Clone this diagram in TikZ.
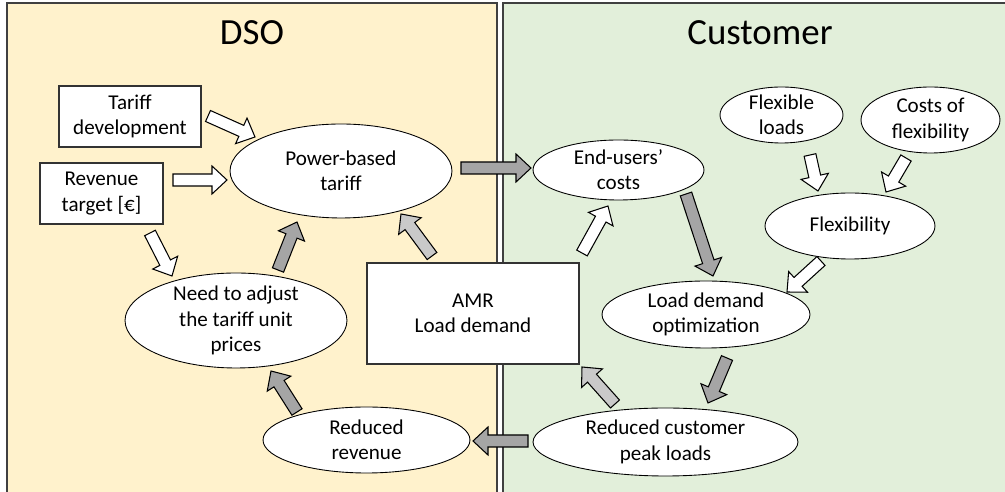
\documentclass[tikz,border=0pt]{standalone}
\usepackage{fontspec}
\setmainfont{Carlito}
\usepackage{tikz}
\usetikzlibrary{shapes, arrows}
\usetikzlibrary{positioning, calc}
\definecolor{dsofill}{HTML}{FFF2CC}
\definecolor{cusfill}{HTML}{E2EFDA}
\definecolor{arrdark}{HTML}{A5A5A5}
\definecolor{arrlight}{HTML}{C9C9C9}
\tikzstyle{panel} = [draw = black!75, line width = 0.8pt]
\tikzstyle{title} = [font = \fontsize{21}{25}\selectfont]
\tikzstyle{box} = [rectangle, draw = black!80, fill = white, line width = 0.6pt,
  align = center, font = \fontsize{12}{14.4}\selectfont]
\tikzstyle{oval} = [
  ellipse, inner sep = -3pt,
  draw = black, fill = white, line width = 0.5pt,
  align = center, font = \fontsize{12}{14.4}\selectfont
]
\tikzstyle{darkarr} = [draw = black, fill = arrdark, line width = 0.6pt,
  line join = miter]
\tikzstyle{lightarr} = [draw = black, fill = arrlight, line width = 0.6pt,
  line join = miter]
\tikzstyle{whitearr} = [draw = black, fill = white, line width = 0.6pt,
  line join = miter]
% block arrow: style, from, to
\newcommand{\blockarrow}[3]{%
  \coordinate (ba-h) at ($(#3)!0.3cm!(#2)$);
  \draw [#1] ($(#2)!0.12cm!90:(#3)$) -- ($(ba-h)!0.12cm!-90:(#2)$) --
  ($(ba-h)!0.28cm!-90:(#2)$) -- (#3) -- ($(ba-h)!0.28cm!90:(#2)$) --
  ($(ba-h)!0.12cm!90:(#2)$) -- ($(#2)!0.12cm!-90:(#3)$) -- cycle;
}

\begin{document}
\begin{tikzpicture}[x = 0.02cm, y = -0.02cm]
      \useasboundingbox (0, 0) rectangle (1005, 492);
      % panels
      \fill [dsofill] (7, 3) rectangle (497, 492);
      \draw [panel] (7, 492) -- (7, 3) -- (497, 3) -- (497, 492);
      \fill [cusfill] (503, 3) rectangle (1005, 492);
      \draw [panel] (503, 492) -- (503, 3) -- (1005, 3);
      \node [title] (dso-title) at (252, 33) {DSO};
      \node [title] (cus-title) at (760, 33) {Customer};

      % DSO
      \node [box, minimum width = 2.84cm, minimum height = 1.22cm] (dso-dev)
        at (130, 116.5) {Tariff\\development};
      \node [box, minimum width = 2.46cm, minimum height = 1.22cm] (dso-target)
        at (101.5, 193.5) {Revenue\\target [€]};
      \node [oval, minimum width = 4.44cm, minimum height = 1.88cm] (dso-tariff)
        at (341, 171) {Power-based\\tariff};
      \node [oval, minimum width = 4.44cm, minimum height = 1.9cm] (dso-adjust)
        at (236, 320.5) {Need to adjust\\the tariff unit\\prices};
      \node [oval, minimum width = 4.14cm, minimum height = 1.32cm] (dso-revenue)
        at (366.5, 440) {Reduced\\revenue};
      \node [box, minimum width = 4.24cm, minimum height = 2.02cm] (amr)
        at (473, 313.5) {AMR\\Load demand};

      % Customer
      \node [oval, minimum width = 3.42cm, minimum height = 1.2cm] (cus-costs)
        at (618.5, 170) {End-users’\\costs};
      \node [oval, minimum width = 2.46cm, minimum height = 1.12cm] (cus-loads)
        at (781.5, 115) {Flexible\\loads};
      \node [oval, minimum width = 2.78cm, minimum height = 1.32cm] (cus-flexcost)
        at (930.5, 120) {Costs of\\flexibility};
      \node [oval, minimum width = 3.4cm, minimum height = 1.32cm] (cus-flex)
        at (850, 226) {Flexibility};
      \node [oval, minimum width = 4.16cm, minimum height = 1.34cm] (cus-opt)
        at (706, 314.5) {Load demand\\optimization};
      \node [oval, minimum width = 5.3cm, minimum height = 1.36cm] (cus-peak)
        at (665.5, 442) {Reduced customer\\peak loads};

      % arrow ends
      \coordinate (dev-s) at (208, 116);   \coordinate (dev-e) at (255, 137);
      \coordinate (tgt-s) at (173, 180);   \coordinate (tgt-e) at (227, 180);
      \coordinate (tga-s) at (150, 233);   \coordinate (tga-e) at (172, 276);
      \coordinate (adj-s) at (278, 270);   \coordinate (adj-e) at (297, 222);
      \coordinate (amt-s) at (432, 256);   \coordinate (amt-e) at (401, 214);
      \coordinate (tar-s) at (461, 168);   \coordinate (tar-e) at (531, 168);
      \coordinate (amc-s) at (582, 253);   \coordinate (amc-e) at (608, 206);
      \coordinate (cst-s) at (686, 194);   \coordinate (cst-e) at (713, 276);
      \coordinate (fll-s) at (810, 155);   \coordinate (fll-e) at (818, 191);
      \coordinate (flc-s) at (906, 158);   \coordinate (flc-e) at (886, 192);
      \coordinate (flx-s) at (821, 261);   \coordinate (flx-e) at (787, 292);
      \coordinate (opt-s) at (727, 358);   \coordinate (opt-e) at (708, 403);
      \coordinate (pka-s) at (615, 404);   \coordinate (pka-e) at (582, 367);
      \coordinate (pkr-s) at (528, 441);   \coordinate (pkr-e) at (473, 441);
      \coordinate (rev-s) at (297, 412);   \coordinate (rev-e) at (271, 371);

      % dso-dev, dso-target -> dso-tariff, dso-adjust
      \blockarrow{whitearr}{dev-s}{dev-e}
      \blockarrow{whitearr}{tgt-s}{tgt-e}
      \blockarrow{whitearr}{tga-s}{tga-e}
      % dso-adjust -> dso-tariff
      \blockarrow{darkarr}{adj-s}{adj-e}
      % amr -> dso-tariff, cus-costs
      \blockarrow{lightarr}{amt-s}{amt-e}
      \blockarrow{whitearr}{amc-s}{amc-e}
      % dso-tariff -> cus-costs
      \blockarrow{darkarr}{tar-s}{tar-e}
      % cus-costs -> cus-opt
      \blockarrow{darkarr}{cst-s}{cst-e}
      % cus-loads, cus-flexcost -> cus-flex -> cus-opt
      \blockarrow{whitearr}{fll-s}{fll-e}
      \blockarrow{whitearr}{flc-s}{flc-e}
      \blockarrow{whitearr}{flx-s}{flx-e}
      % cus-opt -> cus-peak
      \blockarrow{darkarr}{opt-s}{opt-e}
      % cus-peak -> amr, dso-revenue
      \blockarrow{lightarr}{pka-s}{pka-e}
      \blockarrow{darkarr}{pkr-s}{pkr-e}
      % dso-revenue -> dso-adjust
      \blockarrow{darkarr}{rev-s}{rev-e}
    \end{tikzpicture}
\end{document}
